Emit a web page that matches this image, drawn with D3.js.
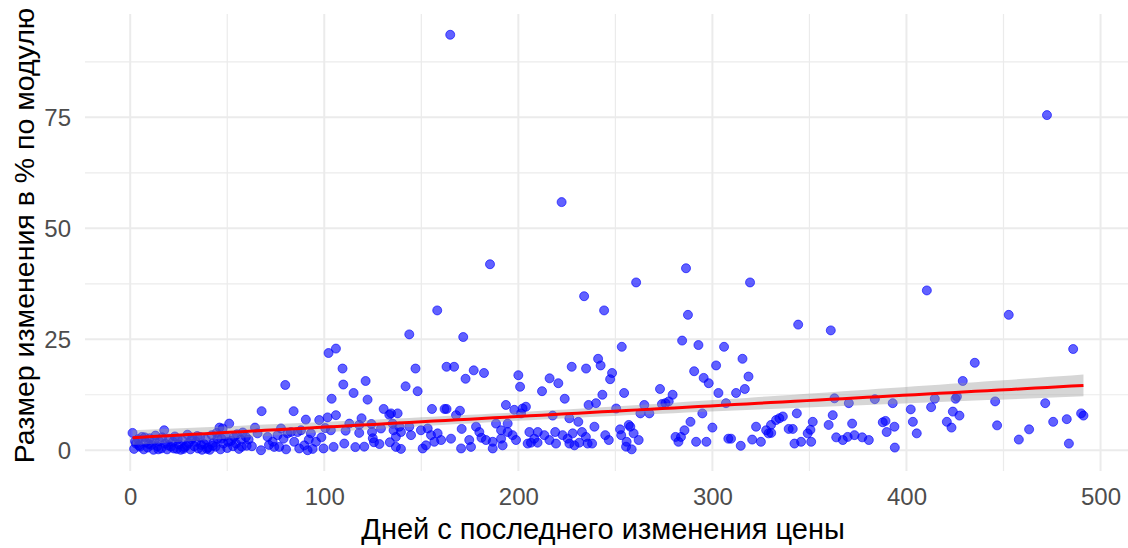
<!DOCTYPE html>
<html>
<head>
<meta charset="utf-8">
<script src="https://cdn.jsdelivr.net/npm/d3@7"></script>
<style>
  body { margin: 0; background: #ffffff; }
  svg { display: block; }
</style>
</head>
<body>
<svg id="chart" width="1128" height="548"></svg>
<script>
// Days since the previous price change, per observation
const daysSince = [
  1.2,2,3,4,5,6,7,8,9,10,11,12,13,14,15,16,17.5,18,19,20,21,22,23,24,25,26,27,28,29.5,30,
  31,32,33,34,35,36,37,38,39,40,41,42,43,44,45,46,46.5,47.6,48,49,50,51,52,53,54.5,55,56,57,58,59.6,
  60,62.7,2.5,4.5,7.5,9.5,12.5,14.5,16.5,19.5,22.5,24.5,27.5,29,31.5,34.5,36.5,39.5,42.5,44.5,47,50.5,53.5,57.5,61,
  64.3,65.6,67.4,67.7,70.8,73.4,74.2,75.9,76.8,77.7,79.9,80.3,81.1,82.8,84.2,84.5,86.2,87.1,88,89.7,
  90.5,91.4,93.1,94,95.7,97.4,99.6,101.7,102.2,103.4,103.8,104.8,106,106,71.5,79,92,98.5,100.5,
  109.4,109.8,115.1,121.3,122.3,141.9,143.8,147,148.1,158.2,163,164.9,166.9,171.6,172.8,177,182.3,185.4,193.6,200,
  200.9,212.2,216.1,220.6,222.3,223.9,227.5,233.9,234.9,
  110.3,111,112.9,116,118,118,119.2,120.6,124.3,124.6,125,125.6,128.4,129.2,130.6,133.5,134.4,137.8,133.8,135.2,
  135.7,136.9,136.9,138.7,139.5,139.5,143.8,144.7,149.8,150.7,152.4,153.3,155,155.5,156.7,158.4,160.2,162,163,165.3,
  167.9,169.9,170.5,170.8,174.7,175.6,178.2,179.9,181,183.3,186.8,186.8,188.5,191.1,191.1,191.9,194.5,194.5,197,197.9,
  198.8,201.4,202.2,203.9,204.8,205.7,206.5,208.2,209.9,210,213.4,216,217.7,219,219.4,222.8,225.4,226.3,226.3,228,
  228.9,230.9,231.4,232.8,234.8,235.7,236.2,
  244.2,253.3,260.7,284.4,286.4,287.4,292.8,306,315.5,319.4,344.2,361,241.1,242.4,248.3,247.3,290.6,295.5,298.1,301.9,
  318.6,316.7,312.2,303.1,243.3,254.5,273,279.5,277.5,275.8,240,250.4,264.9,262.9,267.5,274,307,294.8,362.9,
  239.2,238,244.8,246.6,252.4,253,255.5,256.9,257.7,259.4,255.8,258.4,262,282.5,283.8,285.6,281,288.7,291.6,296.9,
  300,308.2,309.6,314.6,320.5,322.5,325,327.7,330.2,332.8,334.5,336.3,328.9,330.3,339.3,341.4,343.5,351.7,350.5,342.3,
  345.7,349.1,350.9,359.9,362,363.8,
  410.5,452.7,485.9,435.2,429,370.3,383.7,392.9,402.2,403.3,405.3,394,412.7,414.6,425.3,426,423.9,427.3,420.8,423.2,
  445.7,446.7,457.9,463.2,471.5,475.6,482.6,483.7,490,491.2,472.4,372,367.2,369.7,373.2,377.2,380.6,387.8,389.2,389.8,
  393.8
];

// Absolute size of the price change, %
const changePct = [
  3.9,0.3,1.5,2.5,0.8,3.0,0.2,1.8,0.6,2.7,1.2,0.1,3.3,0.9,2.0,0.4,4.5,1.5,0.2,2.6,0.8,1.9,3.1,0.3,1.3,0.1,2.2,0.7,3.5,1.6,
  0.2,2.8,0.9,1.9,0.4,3.0,0.1,1.4,2.4,0.6,0.1,3.4,1.7,0.8,2.6,5.1,0.2,4.9,1.5,3.2,0.5,6.0,2.1,0.9,1.5,3.6,0.3,2.4,4.0,3.0,
  1.0,0.9,2.0,1.1,2.9,1.4,2.2,0.2,2.9,1.1,0.4,2.5,0.3,1.0,2.4,3.2,1.2,0.3,1.0,3.9,2.6,1.9,3.0,0.8,2.4,
  5.1,3.8,0.0,8.8,3.0,1.9,0.75,3.4,0.75,4.9,14.7,0.2,3.8,4.1,8.8,1.9,4.1,0.4,4.5,1.1,
  6.9,0.0,3.8,0.3,1.9,6.8,0.4,7.4,21.9,4.5,11.6,0.75,22.9,7.9,1.2,2.6,2.4,2.9,5.0,
  18.4,14.8,12.9,15.6,11.4,14.4,26.1,18.4,13.3,31.5,18.8,93.6,18.8,25.5,16.1,18,17.4,41.9,10.2,16.9,
  14.3,13.3,16.2,15.1,55.9,11.6,18.8,34.7,18.4,
  1.5,4.4,6.0,0.7,3.9,5.7,7.2,0.8,5.9,4.1,2.7,1.8,1.4,4.9,9.3,8.0,8.3,8.3,1.8,6.0,
  4.5,0.75,3.0,5.3,4.1,0.3,5.3,3.4,4.5,0.4,1.1,4.9,3.4,9.3,1.9,3.8,2.3,9.3,9.3,2.6,
  7.9,8.9,0.4,4.8,2.3,0.75,5.3,4.1,2.8,2.3,1.9,0.4,6.0,2.6,4.5,1.1,6.0,4.1,3.4,9.1,
  2.3,8.3,9.4,9.8,1.5,4.1,1.7,2.6,1.7,4.1,3.4,2.3,7.8,4.1,1.5,3.4,2.6,1.5,7.2,3.8,
  1.1,6.4,1.7,4.1,3.0,1.5,10.2,
  31.5,23.3,37.8,24.7,41.0,30.5,23.7,23.3,20.6,37.8,28.3,27,20.6,19.1,17.4,16.0,17.8,16.3,15.1,19.1,
  16.6,13.8,12.9,12.9,12.5,12.9,13.8,12.5,11.0,10.6,10.6,9.4,10.2,8.3,8.3,10.4,10.6,8.3,11.7,
  5.3,1.5,3.4,2.3,4.7,3.4,0.8,5.7,5.3,3.8,1.9,0.2,2.3,1.9,3.0,4.5,3.0,6.4,1.9,1.9,
  5.1,2.6,2.6,1.0,2.4,5.3,1.9,4.5,5.7,6.8,7.2,7.6,3.8,3.9,4.8,4.8,8.3,6.4,4.6,1.5,
  1.9,3.8,1.9,5.7,7.9,2.9,
  36.0,30.5,22.8,19.7,15.6,10.6,11.5,10.6,9.2,6.4,3.8,0.6,9.7,11.6,11.6,12.1,8.7,7.8,6.4,5.1,
  11.0,5.6,2.4,4.7,10.6,6.4,7.0,1.5,8.3,7.8,75.5,6.0,2.3,3.0,3.4,2.9,2.3,6.3,6.6,4.1,
  5.3
];

const xTicks = [0, 100, 200, 300, 400, 500];
const xMinorTicks = [50, 150, 250, 350, 450];
const yTicks = [0, 25, 50, 75];
const yMinorTicks = [12.5, 37.5, 62.5, 87.5];
const xTitle = "Дней с последнего изменения цены";
const yTitle = "Размер изменения в % по модулю";

const points = daysSince.map((d, i) => ({ x: d, y: changePct[i] }));

// Panel geometry
const panel = { left: 85, right: 1131, top: 14, bottom: 471 };

// Scales with 5% padding on each side of the data range
function padded(ext) {
  const span = ext[1] - ext[0];
  return [ext[0] - span * 0.05, ext[1] + span * 0.05];
}
const xExt = d3.extent(daysSince);
const yExt = d3.extent(changePct);
const x = d3.scaleLinear().domain(padded(xExt)).range([panel.left, panel.right]);
const y = d3.scaleLinear().domain(padded(yExt)).range([panel.bottom, panel.top]);

const svg = d3.select("#chart");
const font = "'Liberation Sans', Arial, sans-serif";

// Grid
const grid = svg.append("g");
grid.selectAll(".ymin").data(yMinorTicks).join("line")
  .attr("x1", panel.left).attr("x2", panel.right)
  .attr("y1", d => y(d)).attr("y2", d => y(d))
  .attr("stroke", "#ebebeb").attr("stroke-width", 1.2);
grid.selectAll(".xmin").data(xMinorTicks).join("line")
  .attr("y1", panel.top).attr("y2", panel.bottom)
  .attr("x1", d => x(d)).attr("x2", d => x(d))
  .attr("stroke", "#ebebeb").attr("stroke-width", 1.2);
grid.selectAll(".ymaj").data(yTicks).join("line")
  .attr("x1", panel.left).attr("x2", panel.right)
  .attr("y1", d => y(d)).attr("y2", d => y(d))
  .attr("stroke", "#ebebeb").attr("stroke-width", 2);
grid.selectAll(".xmaj").data(xTicks).join("line")
  .attr("y1", panel.top).attr("y2", panel.bottom)
  .attr("x1", d => x(d)).attr("x2", d => x(d))
  .attr("stroke", "#ebebeb").attr("stroke-width", 2);

// Points
svg.append("g").selectAll("circle").data(points).join("circle")
  .attr("cx", d => x(d.x)).attr("cy", d => y(d.y)).attr("r", 4.5)
  .attr("fill", "#0000ff").attr("fill-opacity", 0.62)
  .attr("stroke", "#0000ff").attr("stroke-opacity", 0.62).attr("stroke-width", 1);

// Least-squares fit with 95% confidence band
const n = points.length;
const mx = d3.mean(daysSince), my = d3.mean(changePct);
let sxx = 0, sxy = 0;
points.forEach(p => { sxx += (p.x - mx) ** 2; sxy += (p.x - mx) * (p.y - my); });
const slope = sxy / sxx;
const intercept = my - slope * mx;
let sse = 0;
points.forEach(p => { sse += (p.y - (intercept + slope * p.x)) ** 2; });
const sigma = Math.sqrt(sse / (n - 2));
const tCrit = 1.966;
const fitGrid = d3.range(80).map(i => xExt[0] + (xExt[1] - xExt[0]) * i / 79);
const fit = fitGrid.map(gx => {
  const f = intercept + slope * gx;
  const se = sigma * Math.sqrt(1 / n + (gx - mx) ** 2 / sxx);
  return { x: gx, y: f, lo: f - tCrit * se, hi: f + tCrit * se };
});

svg.append("path").datum(fit)
  .attr("d", d3.area().x(d => x(d.x)).y0(d => y(d.lo)).y1(d => y(d.hi)))
  .attr("fill", "#999999").attr("fill-opacity", 0.4);
svg.append("path").datum(fit)
  .attr("d", d3.line().x(d => x(d.x)).y(d => y(d.y)))
  .attr("fill", "none").attr("stroke", "#ff0000").attr("stroke-width", 3);

// Axis labels
const xAxis = d3.axisBottom(x).tickValues(xTicks).tickSize(0).tickPadding(0);
const gx = svg.append("g").attr("transform", `translate(0,${panel.bottom})`).call(xAxis);
gx.select(".domain").remove();
gx.selectAll("text").attr("y", 34).attr("dy", 0)
  .attr("font-family", font).attr("font-size", 24).attr("fill", "#4d4d4d");

const yAxis = d3.axisLeft(y).tickValues(yTicks).tickSize(0).tickPadding(0);
const gy = svg.append("g").attr("transform", `translate(71,0)`).call(yAxis);
gy.select(".domain").remove();
gy.selectAll("text").attr("x", 0).attr("dy", "0.36em")
  .attr("font-family", font).attr("font-size", 24).attr("fill", "#4d4d4d");

// Titles
svg.append("text")
  .attr("x", (panel.left + panel.right) / 2 - 5).attr("y", 539)
  .attr("text-anchor", "middle")
  .attr("font-family", font).attr("font-size", 29).attr("fill", "#000")
  .text(xTitle);
svg.append("text")
  .attr("transform", `translate(34,${(panel.top + panel.bottom) / 2 - 7}) rotate(-90)`)
  .attr("text-anchor", "middle")
  .attr("font-family", font).attr("font-size", 28.5).attr("fill", "#000")
  .text(yTitle);
</script>
</body>
</html>
